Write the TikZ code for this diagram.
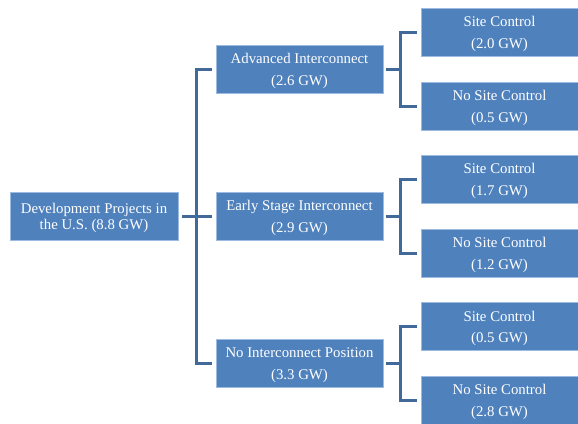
\documentclass[tikz,border=0pt]{standalone}
\usepackage{fontspec}
\setmainfont{Liberation Serif}
\newcommand\topstrut{\rule{0pt}{14bp}}
\definecolor{boxfill}{HTML}{4F81BD}
\definecolor{boxedge}{HTML}{9DBBE0}
\definecolor{linecol}{HTML}{41699A}
\begin{document}
\begin{tikzpicture}[x=1bp,y=-1bp,
  box/.style={draw=boxedge,line width=0.8bp,fill=boxfill,text=white,align=center,
    font=\fontsize{14.8bp}{21.5bp}\selectfont,inner sep=0pt,minimum height=48bp},
  rootbox/.style={box,font=\fontsize{14.8bp}{16.5bp}\selectfont,minimum width=168bp},
  midbox/.style={box,minimum width=167bp},
  leafbox/.style={box,minimum width=157bp},
  conn/.style={draw=linecol,line width=3bp,line join=miter}]
\useasboundingbox (0,0) rectangle (578,423);
\node[rootbox] (root) at (94,216) {\topstrut Development Projects in\\the U.S. (8.8 GW)};
\node[midbox] (adv) at (299.5,69) {\topstrut Advanced Interconnect\\(2.6 GW)};
\node[midbox] (early) at (299.5,216) {\topstrut Early Stage Interconnect\\(2.9 GW)};
\node[midbox] (noint) at (299.5,363) {\topstrut No Interconnect Position\\(3.3 GW)};
\node[leafbox] (l1) at (499.5,32) {\topstrut Site Control\\(2.0 GW)};
\node[leafbox] (l2) at (499.5,106) {\topstrut No Site Control\\(0.5 GW)};
\node[leafbox] (l3) at (499.5,179) {\topstrut Site Control\\(1.7 GW)};
\node[leafbox] (l4) at (499.5,253) {\topstrut No Site Control\\(1.2 GW)};
\node[leafbox] (l5) at (499.5,326.5) {\topstrut Site Control\\(0.5 GW)};
\node[leafbox] (l6) at (499.5,400) {\topstrut No Site Control\\(2.8 GW)};
% root to mid
\draw[conn] ([xshift=4bp]root.east) -- ([xshift=-4bp]early.west);
\draw[conn] ([xshift=-4bp]adv.west) -- ([xshift=-19bp]adv.west) -- ([xshift=-19bp]noint.west) -- ([xshift=-4bp]noint.west);
% mid to leaves
\foreach \m/\a/\b in {adv/l1/l2, early/l3/l4, noint/l5/l6}{
  \draw[conn] ([xshift=3bp]\m.east) -- ([xshift=-20bp]\m.east -| \a.west);
  \draw[conn] ([xshift=-4bp]\a.west) -- ([xshift=-20bp]\a.west) -- ([xshift=-20bp]\b.west) -- ([xshift=-4bp]\b.west);
}
\end{tikzpicture}
\end{document}
